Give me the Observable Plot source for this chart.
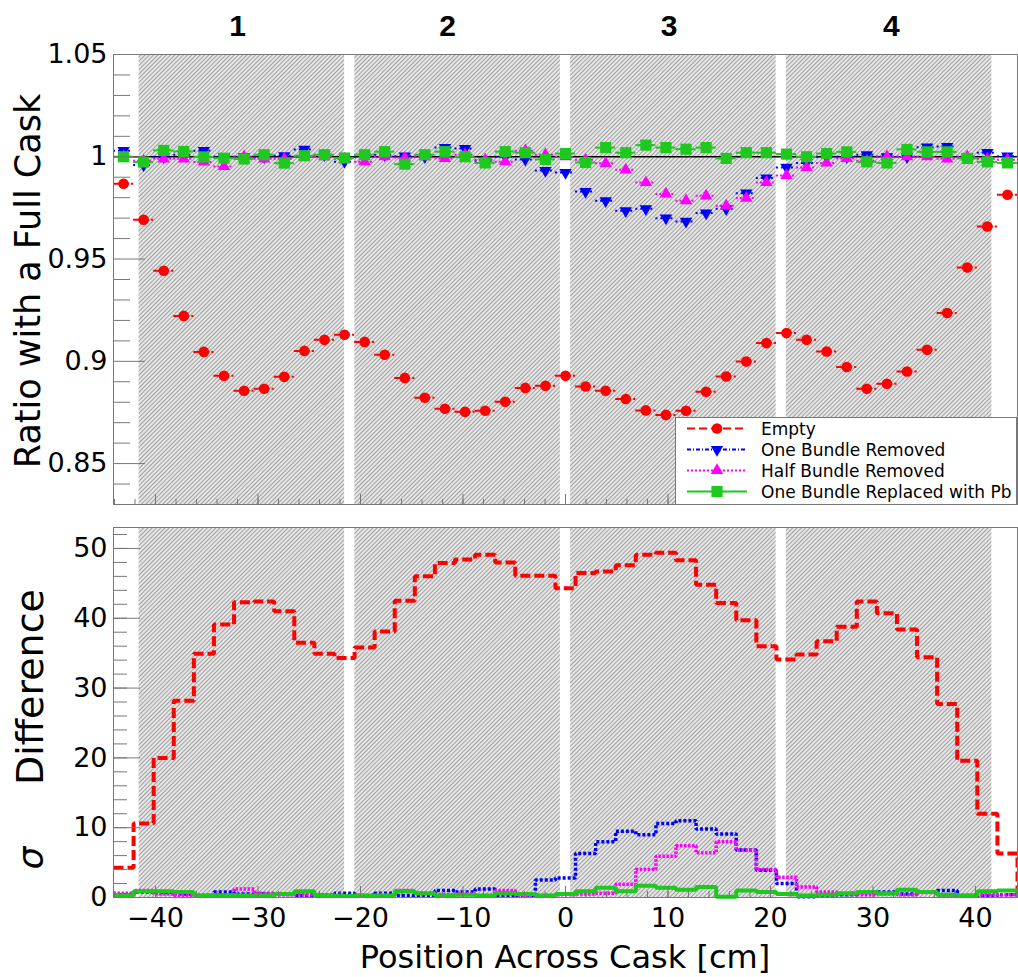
<!DOCTYPE html>
<html><head><meta charset="utf-8">
<script src="https://cdn.jsdelivr.net/npm/d3@7"></script>
<script src="https://cdn.jsdelivr.net/npm/@observablehq/plot@0.6"></script>
<style>
body{margin:0;background:#fff;}
#chart{position:relative;width:1018px;height:977px;overflow:hidden;}
#chart svg{display:block;}
</style></head><body>
<svg width="0" height="0" style="position:absolute"><defs>
<pattern id="hatch" patternUnits="userSpaceOnUse" width="3" height="3" patternTransform="rotate(45)">
<rect width="3" height="3" fill="#e6e6e6"/><line x1="0.5" y1="0" x2="0.5" y2="3" stroke="#a0a0a0" stroke-width="1"/>
</pattern></defs></svg>
<div id="chart"></div>
<script>
// ---------- data ----------
const binEdges = [-44.1,-42.14,-40.18,-38.22,-36.26,-34.3,-32.34,-30.38,-28.42,-26.46,-24.5,-22.54,-20.58,-18.62,-16.66,-14.7,-12.74,-10.78,-8.82,-6.86,-4.9,-2.94,-0.98,0.98,2.94,4.9,6.86,8.82,10.78,12.74,14.7,16.66,18.62,20.58,22.54,24.5,26.46,28.42,30.38,32.34,34.3,36.26,38.22,40.18,42.14,44.1];

const emptyRatio = [0.9868,0.9692,0.9443,0.9222,0.9046,0.8929,0.8856,0.8866,0.8924,0.9051,0.9105,0.9130,0.9095,0.9032,0.8919,0.8822,0.8768,0.8753,0.8758,0.8802,0.8870,0.8880,0.8929,0.8877,0.8856,0.8816,0.8760,0.8738,0.8758,0.8851,0.8926,0.8999,0.9089,0.9138,0.9105,0.9048,0.8972,0.8866,0.8890,0.8950,0.9056,0.9236,0.9459,0.9659,0.9814];
const oneBundleRatio = [1.003,0.996,1.000,1.001,1.003,1.000,1.000,1.000,1.0005,1.0036,1.001,0.9976,1.000,1.001,1.0003,1.000,1.0045,1.004,0.998,1.000,0.9987,0.9933,0.9923,0.983,0.9785,0.9736,0.9746,0.970,0.9684,0.9725,0.9746,0.9822,0.9896,0.9948,0.997,1.000,1.000,1.001,1.000,1.000,1.0047,1.005,1.000,1.002,1.0003];
const halfBundleRatio = [1.000,0.998,0.999,0.999,0.9975,0.9953,1.000,0.999,0.999,1.000,1.000,0.999,0.9976,1.000,0.9995,1.000,0.9992,1.001,0.9985,0.9976,1.003,1.001,1.000,0.9985,0.9968,0.9936,0.9874,0.9818,0.9785,0.9809,0.976,0.9798,0.9874,0.9909,0.9948,0.997,0.9992,0.998,1.000,1.000,1.000,0.999,1.000,0.999,0.9985];
const pbRatio = [1.000,0.9974,1.0031,1.0026,0.9999,0.9993,0.9989,1.001,0.9969,1.0005,1.001,0.9994,1.001,1.0025,0.9964,1.001,1.0025,1.000,0.997,1.0025,1.002,0.9987,1.0016,0.9972,1.0045,1.002,1.0057,1.0045,1.0037,1.0045,0.9992,1.002,1.002,1.0013,1.000,1.0016,1.0024,0.9975,0.997,1.0036,1.0024,1.0024,0.9992,0.9975,0.997];

const emptySigma = [4.25,10.6,20.0,28.2,34.9,39.1,42.3,42.4,41.0,36.5,34.9,34.3,35.8,38.1,42.5,46.0,47.9,48.4,49.1,48.0,46.1,46.1,44.3,46.5,46.7,47.6,49.1,49.4,48.3,44.8,42.2,39.7,36.0,34.1,34.8,36.7,38.8,42.4,40.7,38.4,34.4,27.7,19.6,12.0,6.3];
const oneBundleSigma = [0.4,0.8,0.7,0.5,0.3,0.8,0.5,0.5,0.5,0.3,0.3,0.6,0.3,0.6,0.3,0.3,1.0,0.8,1.2,0.3,0.2,2.5,2.8,6.3,8.0,9.5,9.0,10.6,11.0,9.8,9.1,6.8,3.9,2.0,0.1,0.3,0.4,0.7,0.8,0.5,0.8,1.0,0.3,0.2,0.4];
const halfBundleSigma = [0.6,1.0,0.5,0.3,0.3,0.4,1.2,0.6,0.4,0.4,0.4,0.3,0.2,0.3,1.0,0.6,0.4,0.5,0.2,1.0,0.3,0.3,0.4,0.5,0.6,1.9,4.0,5.9,7.4,6.4,8.0,6.8,4.0,2.9,1.5,0.8,0.5,0.4,0.5,0.4,0.7,0.3,0.2,0.4,0.4];
const pbSigma = [0.3,0.9,0.9,0.8,0.3,0.3,0.3,0.3,0.5,0.9,0.3,0.2,0.3,0.3,0.9,0.6,0.3,0.4,0.3,0.6,0.5,0.3,0.5,0.9,1.4,0.9,1.7,1.4,1.1,1.5,0.1,1.0,0.8,0.5,0.3,0.4,0.6,0.8,0.6,1.1,0.8,0.4,0.3,0.9,1.0];

const bundleLo = [-41.6,-20.55,0.5,21.55];
const bundleHi = [-21.55,-0.5,20.55,41.6];
const bundleLabels = ["1","2","3","4"];
const bundleLabelPos = [-32.0,-11.5,10.1,31.8];

const seriesNames = ["Empty","One Bundle Removed","Half Bundle Removed","One Bundle Replaced with Pb"];
const seriesColors = ["#ff0000","#0000ff","#ff00ff","#1ec81e"];

const xDomain = [-44.1, 44.1];
const yTopDomain = [0.83, 1.05];
const yBotDomain = [0, 53];
const xMajorTicks = [-40,-30,-20,-10,0,10,20,30,40];
const xMinorTicks = d3.range(-44, 45, 2);
const yTopMajor = [0.85,0.9,0.95,1,1.05];
const yTopMinor = [0.84,0.86,0.87,0.88,0.89,0.91,0.92,0.93,0.94,0.96,0.97,0.98,0.99,1.01,1.02,1.03,1.04];
const yBotMajor = [0,10,20,30,40,50];
const yBotMinor = d3.range(0, 53, 2);

// ---------- derived tables ----------
const ratios = [emptyRatio, oneBundleRatio, halfBundleRatio, pbRatio];
const sigmas = [emptySigma, oneBundleSigma, halfBundleSigma, pbSigma];
const styles = [
  {symbol: "circle", rotate: 0, r: 5.3, dash: "7,2", sdash: "10,4", sw: 4},
  {symbol: "triangle", rotate: 180, r: 4.6, dash: "2,3", sdash: "3,2", sw: 3.5},
  {symbol: "triangle", rotate: 0, r: 4.6, dash: "2,2", sdash: "2.5,1.5", sw: 3.5},
  {symbol: "square", rotate: 0, r: 6.3, dash: null, sdash: null, sw: 4}
];
const bundles = bundleLo.map((lo, i) => ({lo, hi: bundleHi[i]}));
const labelRows = bundleLabels.map((t, i) => ({t, x: bundleLabelPos[i]}));

const pointRows = ratios.map(arr => arr.map((v, i) => ({v, lo: binEdges[i], hi: binEdges[i+1], c: (binEdges[i] + binEdges[i+1]) / 2})));
const stepRows = sigmas.map(arr => {
  const pts = binEdges.map((e, i) => ({x: e, v: arr[Math.min(i, arr.length - 1)]}));
  pts.push({x: binEdges[binEdges.length - 1], v: 0});
  return pts;
});

const fmtX = d => d < 0 ? "\u2212" + (-d) : String(d);
const FONT = "DejaVu Sans, Liberation Sans, sans-serif";
const AX = "#777";

// ---------- top panel ----------
const topMarks = [
  Plot.rect(bundles, {x1: "lo", x2: "hi", fill: "url(#hatch)"}),
  Plot.ruleY([1], {stroke: "black", strokeWidth: 1.5})
];
ratios.forEach((_, k) => {
  const s = styles[k];
  topMarks.push(Plot.ruleY(pointRows[k], {y: "v", x1: "lo", x2: "hi", stroke: seriesColors[k], strokeWidth: 2, strokeDasharray: s.dash}));
  topMarks.push(Plot.dot(pointRows[k], {x: "c", y: "v", symbol: s.symbol, rotate: s.rotate, r: s.r, fill: seriesColors[k], stroke: "none"}));
});
topMarks.push(
  Plot.axisY({ticks: yTopMajor, tickSize: -32, fill: "none", stroke: AX, label: null}),
  Plot.axisY({ticks: yTopMinor, tickSize: -17, fill: "none", stroke: AX, label: null}),
  Plot.axisY({ticks: yTopMajor, tickSize: 0, tickPadding: 6, tickFormat: d => String(d), label: null, fontSize: 27}),
  Plot.axisX({ticks: xMajorTicks, tickSize: -10, fill: "none", stroke: AX, label: null}),
  Plot.axisX({ticks: xMinorTicks, tickSize: -5, fill: "none", stroke: AX, label: null}),
  Plot.frame({stroke: AX}),
  Plot.text(labelRows, {x: "x", text: "t", frameAnchor: "top", dy: -28, fontWeight: "bold", fontSize: 30,
    fontFamily: "Liberation Sans Narrow, Liberation Sans, sans-serif", lineAnchor: "middle"})
);

const topPlot = Plot.plot({
  width: 1018, height: 514,
  marginLeft: 113, marginRight: 1, marginTop: 54, marginBottom: 10,
  style: {fontFamily: FONT, fontSize: "27px", color: "black", background: "transparent", overflow: "visible"},
  x: {domain: xDomain, label: null},
  y: {domain: yTopDomain, label: null},
  marks: topMarks
});

// ---------- bottom panel ----------
const botMarks = [Plot.rect(bundles, {x1: "lo", x2: "hi", fill: "url(#hatch)"})];
sigmas.forEach((_, k) => {
  const s = styles[k];
  botMarks.push(Plot.line(stepRows[k], {x: "x", y: "v", curve: "step-after", stroke: seriesColors[k], strokeWidth: s.sw, strokeDasharray: s.sdash, strokeLinejoin: "miter", strokeLinecap: "butt"}));
});
botMarks.push(
  Plot.axisY({ticks: yBotMajor, tickSize: -27, fill: "none", stroke: AX, label: null}),
  Plot.axisY({ticks: yBotMinor, tickSize: -14, fill: "none", stroke: AX, label: null}),
  Plot.axisY({ticks: yBotMajor, tickSize: 0, tickPadding: 6, label: null, fontSize: 27}),
  Plot.axisX({ticks: xMajorTicks, tickSize: -11, fill: "none", stroke: AX, label: null}),
  Plot.axisX({ticks: xMinorTicks, tickSize: -6, fill: "none", stroke: AX, label: null}),
  Plot.axisX({ticks: xMajorTicks, tickSize: 0, tickPadding: 10, tickFormat: fmtX, label: null, fontSize: 27}),
  Plot.frame({stroke: AX})
);

const botPlot = Plot.plot({
  width: 1018, height: 463,
  marginLeft: 113, marginRight: 1, marginTop: 13, marginBottom: 80,
  style: {fontFamily: FONT, fontSize: "27px", color: "black", background: "transparent", overflow: "visible"},
  x: {domain: xDomain, label: null},
  y: {domain: yBotDomain, label: null},
  marks: botMarks
});

const chart = document.getElementById("chart");
chart.appendChild(topPlot);
chart.appendChild(botPlot);

// axis titles
d3.select(topPlot).append("text")
  .attr("transform", "translate(40,281) rotate(-90)")
  .attr("text-anchor", "middle").attr("font-size", 35).attr("font-family", FONT).attr("fill", "black")
  .text("Ratio with a Full Cask");
d3.select(botPlot).append("text")
  .attr("transform", "translate(43,344) rotate(-90)")
  .attr("text-anchor", "middle").attr("font-size", 36).attr("font-style", "italic").attr("font-family", FONT).attr("fill", "black")
  .text("\u03c3");
d3.select(botPlot).append("text")
  .attr("transform", "translate(43,173) rotate(-90)")
  .attr("text-anchor", "middle").attr("font-size", 38).attr("font-family", FONT).attr("fill", "black")
  .text("Difference");
d3.select(botPlot).append("text")
  .attr("x", 565).attr("y", 454)
  .attr("text-anchor", "middle").attr("font-size", 32).attr("font-family", FONT).attr("fill", "black")
  .text("Position Across Cask [cm]");

// legend
const leg = d3.select(chart).append("svg")
  .attr("width", 343).attr("height", 89)
  .style("position", "absolute").style("left", "675px").style("top", "417px");
leg.append("rect").attr("x", 0.5).attr("y", 0.5).attr("width", 341).attr("height", 87)
  .attr("fill", "white").attr("stroke", AX);
const symMap = {circle: d3.symbolCircle, triangle: d3.symbolTriangle, square: d3.symbolSquare};
seriesNames.forEach((name, k) => {
  const s = styles[k];
  const cy = 11.5 + k * 21;
  leg.append("line").attr("x1", 12).attr("x2", 72).attr("y1", cy).attr("y2", cy)
    .attr("stroke", seriesColors[k]).attr("stroke-width", 2)
    .attr("stroke-dasharray", k === 0 ? "8,4" : k === 1 ? "4,2,1,2" : k === 2 ? "2,2" : null);
  leg.append("path").attr("d", d3.symbol(symMap[s.symbol], Math.PI * s.r * s.r)())
    .attr("transform", `translate(42,${cy}) rotate(${s.rotate})`).attr("fill", seriesColors[k]);
  leg.append("text").attr("x", 86).attr("y", cy).attr("dy", "0.36em")
    .attr("font-size", 17).attr("font-family", FONT).attr("fill", "black").text(name);
});
</script>
</body></html>
